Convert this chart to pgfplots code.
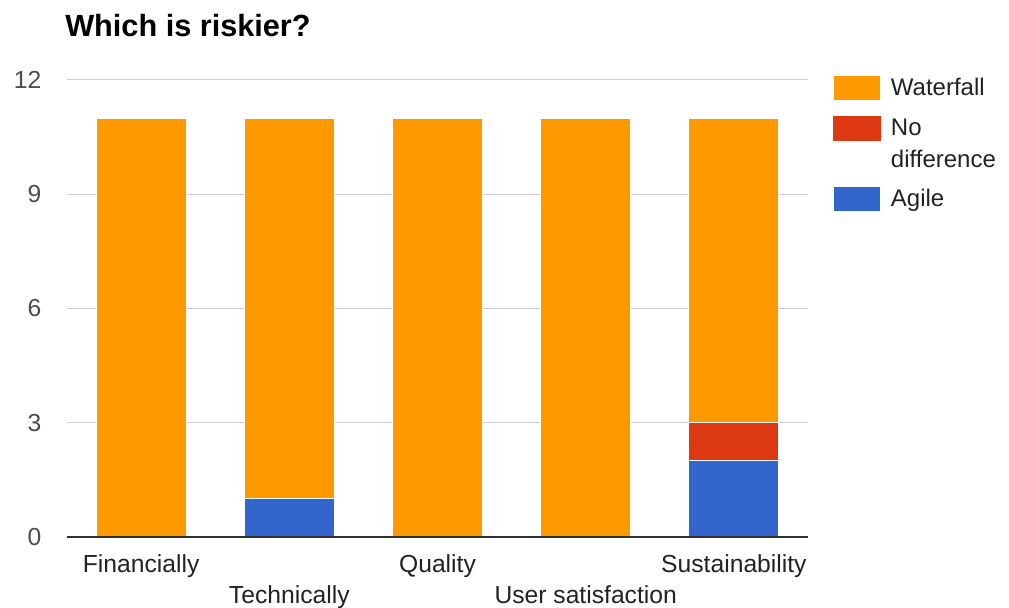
\documentclass[border=0pt]{standalone}
\usepackage{pgfplots}
\pgfplotsset{compat=1.18}
\usepackage{fontspec}
\setmainfont{Liberation Sans}
\definecolor{wf}{HTML}{FF9900}
\definecolor{nd}{HTML}{DC3912}
\definecolor{ag}{HTML}{3366CC}
\definecolor{gridc}{HTML}{CCCCCC}
\definecolor{lbl}{HTML}{222222}
\definecolor{baseln}{HTML}{333333}
\begin{document}
\begin{tikzpicture}
\path[use as bounding box] (0,0) rectangle (756.75pt,455.25pt);
\node[anchor=base west, inner sep=0pt, font=\fontsize{23}{27}\selectfont\bfseries] at (48.75pt,427.5pt) {Which is riskier?};
\begin{axis}[
  at={(50.25pt,52.5pt)}, anchor=south west,
  scale only axis, width=555.75pt, height=342.75pt,
  ybar stacked, bar width=67.5pt,
  xmin=-0.5, xmax=4.5, ymin=0, ymax=12,
  ytick={0,3,6,9,12},
  xtick={0,2,4}, xticklabels={Financially,Quality,Sustainability},
  extra x ticks={1,3}, extra x tick labels={Technically,User satisfaction},
  extra x tick style={grid=none, xticklabel style={yshift=-23.5pt}},
  ymajorgrids, xmajorgrids=false,
  grid style={gridc, line width=0.75pt},
  axis line style={draw=none},
  major tick length=0pt,
  /pgf/number format/assume math mode=true,
  tick label style={font=\fontsize{18.5}{22}\selectfont, text=lbl},
  yticklabel style={xshift=-15.75pt, text=black!70},
  xticklabel style={yshift=-9.5pt},
  reverse legend,
  legend image code/.code={\path (0pt,-7.2pt) -- (0pt,16.8pt);\fill[#1,draw=none] (0pt,-3.75pt) rectangle (35pt,14.25pt);},
  legend style={at={(rel axis cs:1,1)}, anchor=north west, xshift=18.75pt, yshift=5.85pt,
    draw=none, fill=none, inner sep=0pt, row sep=5.25pt, column sep=7.5pt,
    font=\fontsize{18}{24}\selectfont, text=lbl,
    nodes={inner sep=0pt}, cells={anchor=base west}},
  after end axis/.code={\draw[baseln, line width=1.5pt] (rel axis cs:0,0) -- (rel axis cs:1,0);},
]
\addplot[fill=ag, draw=white, line width=0.75pt] coordinates {(0,0) (1,1) (2,0) (3,0) (4,2)};
\addlegendentry{\strut Agile}
\addplot[fill=nd, draw=white, line width=0.75pt,
  legend image code/.code={\path (0pt,-30.45pt) -- (0pt,16.8pt);\fill[nd] (0pt,-3.75pt) rectangle (35pt,14.25pt);}]
  coordinates {(0,0) (1,0) (2,0) (3,0) (4,1)};
\addlegendentry{\begin{tabular}[t]{@{}l@{}}No\\difference\end{tabular}}
\addplot[fill=wf, draw=white, line width=0.75pt] coordinates {(0,11) (1,10) (2,11) (3,11) (4,8)};
\addlegendentry{\strut Waterfall}
\end{axis}
\end{tikzpicture}
\end{document}
